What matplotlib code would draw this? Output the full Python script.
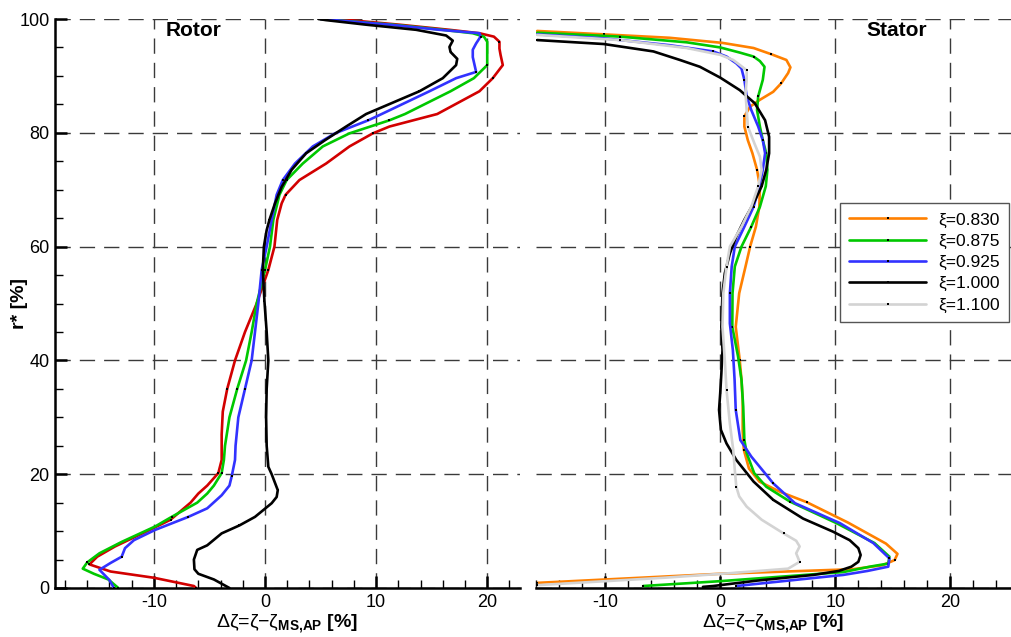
import matplotlib
matplotlib.use('Agg')
import matplotlib.pyplot as plt
from matplotlib.ticker import MultipleLocator

plt.rcParams['font.family'] = ['Liberation Sans', 'DejaVu Sans']
plt.rcParams['mathtext.fontset'] = 'custom'
plt.rcParams['mathtext.rm'] = 'Liberation Sans'
plt.rcParams['mathtext.it'] = 'Liberation Sans:italic'
plt.rcParams['mathtext.bf'] = 'Liberation Sans:bold'

labels = ['ξ=0.830', 'ξ=0.875', 'ξ=0.925', 'ξ=1.000', 'ξ=1.100']

# ---- rotor (r* in %, delta zeta in %) ----
rot_r_830 = [0, 0.35, 1.8, 2.9, 4.15, 5.5, 7.3, 10, 12, 15, 16.6, 18, 20.2, 22.5, 27, 31, 35, 40, 45, 50,
             55.9, 60, 64.7, 67.6, 69.1, 71.7, 74.6, 77.6, 79.9, 81.1, 83.3, 87.3, 89.6, 91.9, 93.7, 94.8,
             96, 96.9, 97.5, 98.1, 99, 99.8, 100]
rot_z_830 = [-6.2, -6.4, -10.0, -13.9, -15.8, -15.1, -13.5, -10.6, -8.5, -6.7, -6.0, -5.2, -4.2, -3.9, -3.9, -3.8,
             -3.4, -2.7, -1.8, -0.75, 0.3, 0.85, 1.1, 1.5, 1.85, 3.1, 5.5, 7.6, 9.7, 11.2, 15.5, 19.3, 20.5,
             21.4, 21.2, 21.1, 21.1, 20.6, 19.3, 16.6, 12.1, 7.6, 5.0]

rot_r_875 = [0, 1.5, 2.5, 3.4, 4.5, 6.1, 8.1, 10.8, 12.5, 15, 16.6, 18, 20.2, 22.5, 25, 30, 35, 40, 45, 50,
             55.9, 60, 64.7, 69.1, 71.7, 74.6, 77.6, 79.9, 82.2, 83.3, 87.3, 89.6, 91.9, 93.7, 96, 96.9,
             97.5, 98.1, 99, 100]
rot_z_875 = [-13.2, -14.1, -15.4, -16.4, -16.0, -14.9, -12.9, -9.9, -8.4, -6.1, -5.2, -4.6, -3.9, -3.7, -3.6,
             -3.2, -2.5, -1.7, -1.2, -0.75, 0.0, 0.45, 0.75, 1.3, 1.95, 3.4, 5.2, 7.6, 11.2, 12.6, 16.7,
             18.8, 20.0, 20.0, 20.0, 19.7, 18.7, 16.0, 11.5, 5.0]

rot_r_925 = [0, 1.4, 3.2, 4.4, 5.5, 7, 8.4, 10.2, 12.5, 14, 16.3, 18, 19.6, 22.5, 25, 30, 35, 40, 45, 50,
             55.9, 60, 64.7, 69.1, 71.7, 74.6, 77.6, 79.9, 82.2, 83.3, 87.3, 89.6, 90.7, 93.3, 94.6, 95.7,
             96.9, 97.5, 98.1, 99, 100]
rot_z_925 = [-13.6, -14.0, -14.9, -13.9, -12.9, -12.6, -11.8, -9.9, -6.9, -5.2, -3.9, -3.2, -3.0, -2.7,
             -2.65, -2.4, -1.8, -1.2, -0.9, -0.6, -0.3, 0.15, 0.6, 1.05, 1.6, 2.7, 4.3, 6.3, 9.3, 10.5,
             14.8, 17.2, 19.0, 18.7, 18.7, 19.0, 19.4, 19.3, 15.7, 11.2, 5.0]

rot_r_1000 = [0, 1.5, 2.5, 3.3, 5, 6.7, 7.5, 9.6, 11, 12.5, 14.9, 16, 17.2, 20, 21.3, 25, 30, 35, 40, 45,
              50.4, 55.9, 60, 62.9, 64.7, 67.6, 70.5, 73.5, 76.4, 78.7, 81.1, 83.3, 87.3, 89.6, 91.9, 93,
              94.2, 95.1, 96.2, 97.1, 98.1, 99, 99.8, 100]
rot_z_1000 = [-3.2, -4.6, -6.0, -6.35, -6.4, -6.1, -5.2, -3.9, -2.3, -0.9, 0.6, 1.05, 1.15, 0.6, 0.3, 0.15,
              0.1, 0.15, 0.3, 0.15, -0.05, -0.2, -0.1, 0.15, 0.4, 0.9, 1.5, 2.4, 3.7, 5.4, 7.3, 9.1, 13.9,
              16.0, 17.2, 17.3, 16.7, 16.6, 16.9, 16.3, 13.6, 9.1, 5.5, 4.8]

# ---- stator ----
sta_r_830 = [0.9, 2.5, 3.3, 4.0, 4.9, 6.0, 7.8, 11.5, 15.1, 16.9, 18.7, 21.0, 24.3, 27.8, 33.0, 36.6, 40,
             45.9, 51.8, 56.5, 60, 63.5, 67, 70.6, 73.5, 76.4, 78.7, 81.1, 82.9, 84.6, 85.8, 87.2, 88.7,
             90.5, 91.5, 92.8, 93.8, 94.9, 95.8, 96.7, 97.3, 97.9]
sta_z_830 = [-15.9, 0.0, 11.5, 14.1, 15.15, 15.4, 14.4, 11.1, 7.5, 5.2, 3.4, 2.5, 2.05, 1.95, 1.95, 1.85,
             1.7, 1.35, 1.65, 2.2, 2.6, 3.1, 3.4, 3.45, 3.2, 2.8, 2.4, 2.1, 2.1, 2.6, 3.45, 4.6, 5.3, 5.9,
             6.1, 5.75, 4.45, 2.9, 0.2, -4.4, -10.1, -15.9]

sta_r_875 = [0.35, 1.2, 2.8, 3.75, 4.3, 5.5, 7.9, 11.4, 15.2, 17.8, 20.2, 23.7, 26, 31.9, 36.6, 40.7, 45.9,
             51.8, 56.5, 60, 63.5, 67, 70.6, 73.5, 76.4, 78.7, 81.1, 84, 86.4, 89.3, 91.6, 92.6, 93.4,
             94.1, 95, 95.9, 96.9, 97.6]
sta_z_875 = [-6.7, 0.0, 10.7, 13.0, 14.6, 14.7, 13.4, 10.1, 6.05, 4.0, 2.95, 2.3, 2.1, 2.0, 1.85, 1.55,
             1.05, 1.07, 1.27, 1.85, 2.7, 3.45, 3.96, 4.1, 4.0, 3.7, 3.45, 3.2, 3.3, 3.7, 3.85, 3.45, 2.9,
             1.7, 0.0, -2.9, -8.7, -15.9]

sta_r_925 = [0.35, 2.3, 3.0, 3.75, 5.2, 7.9, 11.4, 14.9, 18.4, 20, 23.1, 26, 31.3, 36.6, 41.8, 46.5, 51.8,
             56.5, 60, 63.5, 67, 70.6, 73.5, 76.4, 78.7, 81.1, 84, 86.4, 89.3, 91.3, 92.2, 93.4, 94.3,
             95.4, 96.6, 97.3]
sta_z_925 = [1.4, 10.7, 12.8, 14.6, 14.7, 13.3, 10.4, 6.5, 4.6, 3.96, 2.7, 1.75, 1.35, 1.25, 1.1, 0.84,
             0.84, 1.0, 1.27, 2.1, 2.9, 3.4, 3.7, 3.9, 3.7, 3.3, 2.7, 2.3, 2.1, 1.85, 1.4, 0.55, -0.6,
             -4.4, -10.1, -15.9]

sta_r_1000 = [0.2, 0.35, 1.3, 2.3, 3.0, 3.75, 4.6, 5.8, 7.0, 8.4, 9.9, 12.2, 15.5, 18.7, 22.5, 25.4, 27.8,
              31.3, 34.2, 37.7, 41.8, 45.9, 51.8, 55.3, 58.8, 61.8, 64.7, 67.6, 70.6, 73.5, 76.4, 79.3,
              82.2, 85.2, 87.5, 89.7, 91.6, 92.8, 94.3, 95.6, 96.3]
sta_z_1000 = [-1.5, -0.6, 3.2, 8.1, 10.3, 11.4, 12.0, 12.2, 12.0, 11.25, 9.8, 7.2, 4.6, 2.9, 1.4, 0.55,
              0.06, -0.1, 0.0, 0.1, 0.2, 0.1, 0.2, 0.4, 0.84, 1.4, 2.1, 2.9, 3.6, 4.0, 4.25, 4.25, 3.9,
              3.0, 1.7, 0.0, -1.76, -3.5, -5.8, -10.1, -15.9]

sta_r_1100 = [0.5, 1.8, 2.6, 3.4, 4.6, 6.1, 7.3, 8.3, 9.6, 12.0, 14.3, 16.1, 17.8, 20.7, 24.3, 28.9, 34.8,
              40, 45.9, 51.8, 56.5, 60, 63.5, 67, 70.6, 73.5, 75.8, 78, 81.1, 84, 86.9, 89.3, 91.0, 92.8,
              93.7, 94.9, 96.3, 97.2]
sta_z_1100 = [-15.9, -4.9, 0.84, 5.9, 6.9, 6.6, 6.9, 6.6, 5.5, 3.6, 2.3, 1.65, 1.4, 1.27, 1.13, 0.84, 0.55,
              0.4, 0.2, 0.27, 0.55, 0.84, 1.85, 2.7, 3.3, 3.6, 3.45, 3.0, 2.4, 2.3, 2.2, 2.3, 2.3, 1.13,
              0.0, -2.9, -8.7, -15.9]

rot_colors = ['#d20000', '#00c800', '#3232ff', '#000000']
sta_colors = ['#ff8000', '#00c800', '#3232ff', '#000000', '#d3d3d3']

fig = plt.figure(figsize=(10.11, 6.37), dpi=100)
W, H = 1011.0, 637.0
ax1 = fig.add_axes([55 / W, 1 - 588 / H, 465 / W, 569 / H])
ax2 = fig.add_axes([536 / W, 1 - 588 / H, 475 / W, 569 / H])

rot = [(rot_r_830, rot_z_830), (rot_r_875, rot_z_875), (rot_r_925, rot_z_925), (rot_r_1000, rot_z_1000)]
sta = [(sta_r_830, sta_z_830), (sta_r_875, sta_z_875), (sta_r_925, sta_z_925),
       (sta_r_1000, sta_z_1000), (sta_r_1100, sta_z_1100)]

for (r, z), c in zip(rot, rot_colors):
    ax1.plot(z, r, color=c, lw=1.9, marker='s', ms=1.6, mfc='k', mec='k', mew=0, markevery=4,
             solid_joinstyle='round', solid_capstyle='round', zorder=3)
handles = []
for (r, z), c, lab in zip(sta, sta_colors, labels):
    h, = ax2.plot(z, r, color=c, lw=1.9, marker='s', ms=1.6, mfc='k', mec='k', mew=0, markevery=4,
                  solid_joinstyle='round', solid_capstyle='round', zorder=3, label=lab)
    handles.append(h)

for ax, xl in ((ax1, (-18.9, 22.95)), (ax2, (-16.0, 25.26))):
    ax.set_xlim(*xl)
    ax.set_ylim(0, 100)
    ax.set_xticks([-10, 0, 10, 20])
    ax.set_xticklabels(['-10', '0', '10', '20'])
    ax.xaxis.set_minor_locator(MultipleLocator(2))
    ax.set_yticks([0, 20, 40, 60, 80, 100])
    ax.yaxis.set_minor_locator(MultipleLocator(5))
    ax.grid(True, which='major', color='#3a3a3a', lw=1.0, dashes=(11, 6.5))
    for s in ('top', 'right'):
        ax.spines[s].set_visible(False)
    ax.spines['bottom'].set_linewidth(1.8)
    ax.spines['left'].set_linewidth(1.8)
    ax.tick_params(which='major', direction='in', length=8.6, width=1.8, labelsize=13, pad=4.0)
    ax.tick_params(which='minor', direction='in', length=5.5, width=1.0)
    ax.set_xlabel('Δζ=ζ−ζ$_{\\mathbf{MS{,}AP}}$ $\\mathbf{[\\%]}$', fontsize=14)
    ax.xaxis.set_label_coords(0.5, -0.042)

ax2.spines['left'].set_visible(False)
ax2.tick_params(axis='y', which='both', left=False, labelleft=False)

ax1.set_ylabel('r* [%]', fontsize=14, fontweight='bold')
ax1.yaxis.set_label_coords(-27 / 465, 0.5)

ax1.text(0.297, 0.98, 'Rotor', transform=ax1.transAxes, ha='center', va='center',
         fontsize=15, fontweight='bold')
ax2.text(0.76, 0.98, 'Stator', transform=ax2.transAxes, ha='center', va='center',
         fontsize=15, fontweight='bold')

leg = ax2.legend(handles=handles, loc='upper right', bbox_to_anchor=(0.996, 0.677), fontsize=12.5,
                 frameon=True, fancybox=False, framealpha=1, edgecolor='#555555', handlelength=4.4,
                 handletextpad=0.7, labelspacing=0.35, borderpad=0.55, borderaxespad=0)
leg.get_frame().set_linewidth(1.0)
leg.set_zorder(5)

fig.savefig('out.png', dpi=100)
